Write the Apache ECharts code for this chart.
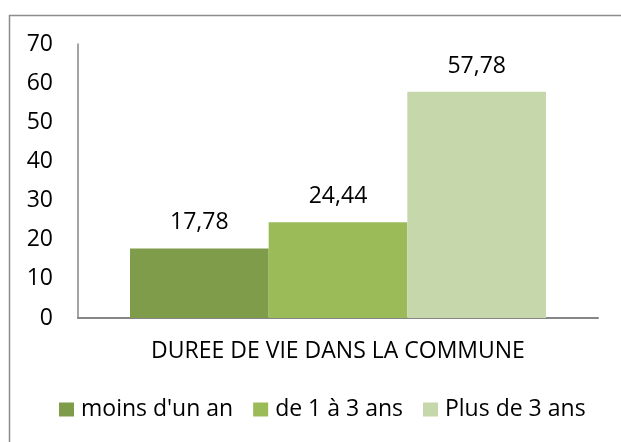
<!DOCTYPE html>
<html><head><meta charset="utf-8">
<script src="https://cdn.jsdelivr.net/npm/echarts@6/dist/echarts.min.js"></script>
<style>html,body{margin:0;padding:0;background:#fff}#c{width:621px;height:442px}</style>
</head><body><div id="c"></div>
<script>
const categories = ["DUREE DE VIE DANS LA COMMUNE"];
const seriesNames = ["moins d'un an", "de 1 à 3 ans", "Plus de 3 ans"];
const moinsDunAn = [17.78];
const de1a3Ans = [24.44];
const plusDe3Ans = [57.78];
const yTicks = [0, 10, 20, 30, 40, 50, 60, 70];
const colors = ["#7F9C4A", "#9BBB59", "#C6D7AB"];

const FONT = "Open Sans";
const FS = 23;
const chart = echarts.init(document.getElementById('c'), null, {renderer: 'canvas'});
const seriesData = [moinsDunAn, de1a3Ans, plusDe3Ans];
chart.setOption({
  animation: false,
  textStyle: {fontFamily: FONT},
  graphic: [{type: 'rect', shape: {x: 9.5, y: 15.5, width: 700, height: 600}, style: {fill: 'none', stroke: '#8c8c8c', lineWidth: 1.5}, silent: true, z: -1}],
  grid: {left: 78, right: 23, top: 44, bottom: 124, containLabel: false},
  legend: {
    left: 59, top: 398, padding: 0, itemWidth: 15, itemHeight: 14, itemGap: 20,
    icon: 'rect',
    textStyle: {fontFamily: FONT, fontSize: FS, color: '#000', padding: [0, 0, 0, 2]},
    data: seriesNames
  },
  xAxis: {
    type: 'category', data: categories,
    axisLine: {lineStyle: {color: '#868686', width: 2}},
    axisTick: {show: false},
    axisLabel: {fontFamily: FONT, fontSize: FS, color: '#000', margin: 22}
  },
  yAxis: {
    type: 'value', min: yTicks[0], max: yTicks[yTicks.length - 1], interval: 10,
    axisLine: {show: true, lineStyle: {color: '#868686', width: 1.5}},
    axisTick: {show: false},
    splitLine: {show: false},
    axisLabel: {fontFamily: FONT, fontSize: FS, color: '#000', margin: 25}
  },
  series: seriesNames.map((n, i) => ({
    name: n, type: 'bar', data: seriesData[i],
    barGap: '0%', barCategoryGap: '20%',
    itemStyle: {color: colors[i]},
    label: {
      show: true, position: 'top', distance: 14,
      fontFamily: FONT, fontSize: FS, color: '#000',
      formatter: p => p.value.toFixed(2).replace('.', ',')
    }
  }))
});
</script></body></html>
